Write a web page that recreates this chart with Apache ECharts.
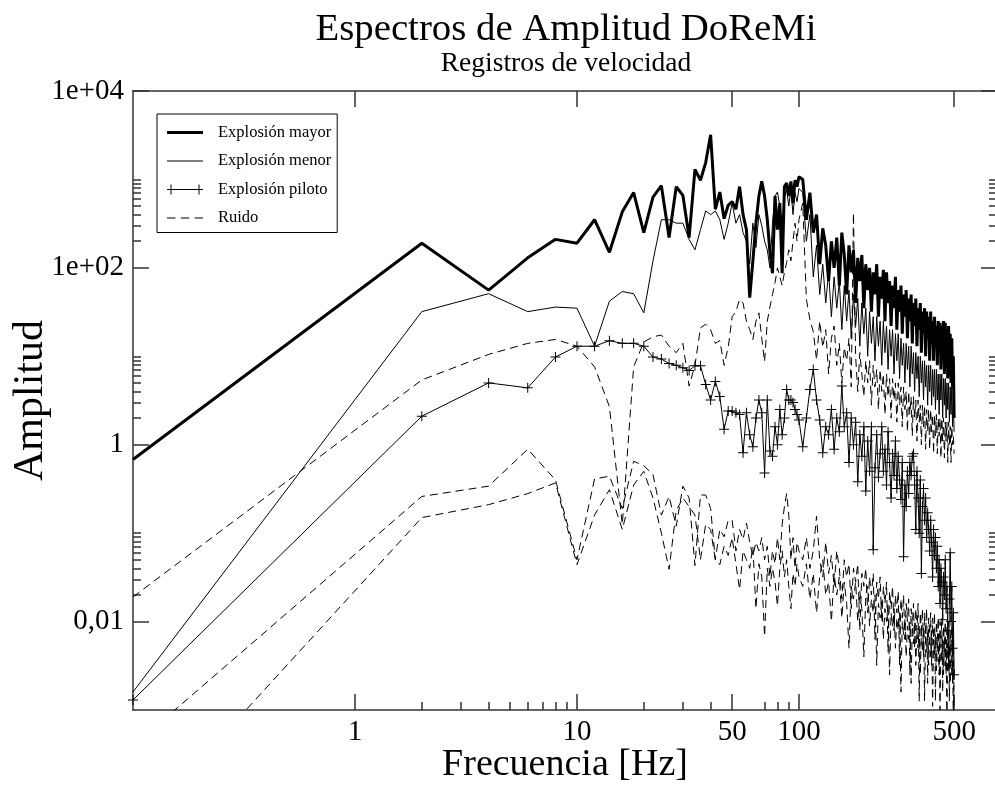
<!DOCTYPE html>
<html>
<head>
<meta charset="utf-8">
<script src="https://cdn.jsdelivr.net/npm/echarts@6/dist/echarts.min.js"></script>
<style>
html, body { margin: 0; padding: 0; background: #fff; }
#chart { width: 995px; height: 786px; }
</style>
</head>
<body>
<div id="chart"></div>
<script>
// frecuencias [Hz]
var freq = [0.1,
	2,4,6,8,10,12,14,16,18,20, 22,24,26,28,30,32,34,36,38,40,
	42,44,46,48,50,52,54,56,58,60, 62,64,66,68,70,72,74,76,78,80,
	82,84,86,88,90,92,94,96,98,100,
	104,108,112,116,120,124,128,132,136,140, 144,148,152,156,160,164,168,172,176,180,
	184,188,192,196,200,204,208,212,216,220, 224,228,232,236,240,244,248,252,256,260,
	264,268,272,276,280,284,288,292,296,300, 304,308,312,316,320,324,328,332,336,340,
	344,348,352,356,360,364,368,372,376,380, 384,388,392,396,400,404,408,412,416,420,
	424,428,432,436,440,444,448,452,456,460, 464,468,472,476,480,484,488,492,496,500];

var mayor = [0.68,
	190,56,130,210,190,350,150,430,710,250, 630,850,220,830,660,220,1300,980,1550,3200,
	460,720,360,510,560,460,830,400,270,46, 120,320,650,950,650,350,150,87,650,270,
	540,87,830,910,650,950,540,980,830,1070,
	1000,350,710,250,400,110,280,180,71,200, 100,220,63,250,140,50,180,89,160,40,
	130,71,140,35,110,56,100,32,89,50, 110,28,79,45,95,25,89,40,71,22,
	63,35,79,20,56,32,63,18,50,28, 56,16,45,25,50,14,40,22,45,13,
	35,20,40,11,32,18,35,10,32,16, 28,8.9,32,14,25,8.9,28,13,22,7.9,
	25,11,24,7.1,22,10,25,6.3,24,8.9, 20,5.6,22,7.9,18,5,16,4.5,10,2];

var menor = [0.0016,
	32,51,32,36,35,13,42,54,51,31, 120,350,350,320,320,210,160,270,440,400,
	440,350,210,320,540,320,400,250,200,110, 320,170,400,300,200,160,100,320,650,720,
	500,320,630,760,500,790,400,710,560,790,
	710,200,400,79,180,50,110,40,89,28, 79,35,71,20,63,25,56,16,50,22,
	45,13,40,18,35,10,32,14,28,8.9, 28,13,25,7.9,25,11,22,7.1,20,10,
	20,6.3,18,8.9,18,5.6,16,7.9,14,5, 14,7.1,13,4.5,13,6.3,11,4,11,5.6,
	10,3.5,10,5,8.9,3.2,8.9,4.5,7.9,2.8, 7.9,4,7.9,2.8,7.1,3.5,7.1,2.5,7.1,3.2,
	6.3,2.2,6.3,3.2,6.3,2,5.6,2.8,5.6,2, 5,2.5,5,1.8,4.5,2.2,4.5,1.6,2.8,1.4];

var piloto = [0.0013,
	2.1,5,4.4,9.8,13,13,15,14,14,13, 9.8,9.3,8.3,7.9,7.4,6.9,7.8,7.8,4.8,3.2,
	5.2,3.5,1.5,2.4,2.4,2.3,2.2,0.81,2.3,1.3, 0.95,2,3.2,2.3,0.48,3.2,0.85,0.74,1.6,1,
	2.5,1.3,2,4.2,3.2,3.2,3,2.5,2.2,1.9,
	0.95,2,4.2,7.1,3.2,1.9,0.81,1.6,1.3,2.5, 0.89,2,1.4,4.6,1.6,2.3,0.63,2,1,1.8,
	0.38,1.3,0.74,1.6,0.3,1.1,0.5,1.6,0.065,0.55, 1.3,0.43,0.79,1.6,0.5,0.89,0.35,1.4,0.63,0.25,
	0.79,0.45,1.1,0.32,0.74,0.4,0.24,0.63,0.054,0.35, 0.2,0.5,0.28,0.63,0.45,0.74,0.79,0.35,0.11,0.5,
	0.25,0.1,0.4,0.035,0.2,0.32,0.14,0.25,0.089,0.17, 0.11,0.063,0.14,0.079,0.032,0.11,0.056,0.089,0.04,0.071,
	0.025,0.05,0.016,0.04,0.028,0.0105,0.032,0.02,0.05,0.014, 0.025,0.0079,0.0032,0.018,0.06,0.01,0.025,0.005,0.0126,0.0025];

var ruidoA = [0.019,
	5.4,10.5,14,15.5,13,7.6,2.7,0.126,7.6,14.5, 16.6,17.4,13,11,14,4.6,7.9,21,23,20,
	14,15,7.9,12.6,28,32,44,40,25,20, 15.5,25,31,16,8.7,25,36,50,68,100,
	79,63,89,115,160,120,200,320,200,350,
	540,44,26,19,9.1,25,12.6,20,6.3,16, 22,7.9,14,5,12.6,8.9,16,4.5,420,10,
	4,11,6.3,3.5,8.9,5,8.9,2.8,7.9,4.5, 7.1,2.5,7.1,4,6.3,2.2,6.3,3.5,5.6,2,
	5.6,3.2,5,1.8,5,2.8,4.5,1.6,4.5,2.5, 4,1.4,4,2.2,3.5,1.26,3.5,2,3.2,1.1,
	3.2,1.8,2.8,1,2.8,1.6,2.8,0.89,2.5,1.4, 2.5,0.89,2.5,1.4,2.2,0.79,2.2,1.26,2.2,0.79,
	2,1.26,2,0.71,2,1.1,2,0.71,1.8,1.1, 1.8,0.63,1.8,1,1.6,0.63,1.6,1,1.26,0.79];

var ruidoB = [0.00039,
	0.26,0.34,0.89,0.4,0.05,0.41,0.44,0.19,0.65,0.58, 0.46,0.16,0.26,0.12,0.34,0.25,0.043,0.27,0.27,0.19,
	0.05,0.11,0.091,0.14,0.14,0.063,0.11,0.085,0.13,0.079, 0.055,0.079,0.063,0.089,0.05,0.071,0.032,0.063,0.045,0.089,
	0.05,0.126,0.2,0.28,0.16,0.05,0.089,0.04,0.079,0.063,
	0.05,0.089,0.04,0.063,0.155,0.05,0.032,0.079,0.035,0.056, 0.025,0.063,0.04,0.018,0.05,0.032,0.045,0.014,0.04,0.028,
	0.045,0.0079,0.035,0.025,0.04,0.0126,0.032,0.02,0.035,0.0063, 0.028,0.018,0.032,0.01,0.025,0.016,0.028,0.0045,0.022,0.014,
	0.025,0.0079,0.02,0.0126,0.022,0.0032,0.018,0.011,0.02,0.0063, 0.016,0.01,0.018,0.0025,0.014,0.0089,0.016,0.005,0.014,0.0079,
	0.016,0.00126,0.0126,0.0079,0.014,0.004,0.0126,0.0071,0.014,0.002, 0.011,0.0071,0.0126,0.0032,0.011,0.0063,0.0126,0.00126,0.01,0.0063,
	0.011,0.0025,0.01,0.0056,0.011,0.0016,0.0089,0.0056,0.01,0.0025, 0.0089,0.005,0.01,0.00126,0.0079,0.0045,0.0089,0.002,0.0063,0.0008];

var ruidoC = [0.00004,
	0.15,0.21,0.28,0.37,0.044,0.16,0.31,0.11,0.35,0.5, 0.25,0.1,0.039,0.18,0.25,0.2,0.16,0.05,0.126,0.11,
	0.05,0.044,0.071,0.056,0.089,0.045,0.023,0.063,0.05,0.04, 0.071,0.014,0.045,0.032,0.0068,0.04,0.025,0.04,0.028,0.015,
	0.04,0.063,0.032,0.05,0.025,0.014,0.035,0.025,0.045,0.032,
	0.025,0.045,0.018,0.035,0.0126,0.032,0.05,0.02,0.028,0.01, 0.035,0.02,0.032,0.011,0.028,0.016,0.005,0.025,0.018,0.028,
	0.01,0.022,0.014,0.004,0.02,0.025,0.0089,0.018,0.0126,0.02, 0.0032,0.016,0.011,0.018,0.0063,0.014,0.01,0.016,0.0025,0.0126,
	0.0089,0.014,0.005,0.011,0.0079,0.0126,0.0016,0.01,0.0071,0.011, 0.004,0.0089,0.0063,0.01,0.002,0.0089,0.0056,0.01,0.0032,0.0079,
	0.005,0.0089,0.0025,0.0079,0.0045,0.0089,0.00126,0.0071,0.0045,0.0079, 0.0032,0.0071,0.004,0.0079,0.0011,0.0063,0.004,0.0071,0.0028,0.0063,
	0.0035,0.0071,0.001,0.0056,0.0035,0.0063,0.0025,0.0056,0.0032,0.0063, 0.0008,0.005,0.0032,0.0056,0.002,0.005,0.0025,0.0045,0.00063,0.0032];

// ejes
var xMin = 0.1, xMax = 780, yMin = 0.001, yMax = 10000;
var xMajor = [1, 10, 50, 100, 500];
var xMajorText = ['1', '10', '50', '100', '500'];
var xMinor = [2, 3, 4, 5, 6, 7, 8, 9, 20, 30, 40, 70, 80, 90];
var yMajor = [0.01, 1, 100, 10000];
var yMajorText = ['0,01', '1', '1e+02', '1e+04'];
var yMinor = [0.02, 0.03, 0.04, 0.05, 0.06, 0.07, 0.08, 0.09, 0.1,
	2, 3, 4, 5, 6, 7, 8, 9, 10,
	200, 300, 400, 500, 600, 700, 800, 900, 1000];

var serif = 'Liberation Serif';
var axisColor = '#333';

function lg(v) { return Math.log10(v); }
function pairs(ys) {
	return freq.map(function (f, i) { return [f, ys[i]]; });
}
function labelOf(values, texts) {
	return function (v) {
		for (var i = 0; i < values.length; i++) {
			if (Math.abs(lg(values[i]) - v) < 1e-6) return texts[i];
		}
		return '';
	};
}
// eje auxiliar solo para marcas (en espacio log10)
function tickAxis(pos, min, max, ticks, len, line, label, name) {
	var a = {
		type: 'value', position: pos, min: min, max: max,
		axisLine: { show: !!line, onZero: false, lineStyle: { color: axisColor, width: 1.5 } },
		axisTick: { show: true, inside: true, length: len, customValues: ticks.map(lg),
			lineStyle: { color: axisColor, width: 1.5 } },
		axisLabel: { show: false },
		splitLine: { show: false }
	};
	if (label) a.axisLabel = label;
	if (name) {
		for (var k in name) a[k] = name[k];
	}
	return a;
}

var chart = echarts.init(document.getElementById('chart'));

var cross = 'path://M0,4.5H10V5.5H0Z M4.5,0H5.5V10H4.5Z';

var option = {
	animation: false,
	backgroundColor: '#fff',
	title: {
		text: 'Espectros de Amplitud DoReMi',
		subtext: 'Registros de velocidad',
		left: 561, top: 5, textAlign: 'center', itemGap: 1,
		textStyle: { fontFamily: serif, fontSize: 38.8, fontWeight: 'normal', color: '#000' },
		subtextStyle: { fontFamily: serif, fontSize: 27.5, color: '#000' }
	},
	legend: {
		orient: 'vertical', left: 157, top: 114,
		padding: [10, 6, 6, 10], itemGap: 11.5, itemWidth: 36, itemHeight: 14,
		borderColor: '#000', borderWidth: 1,
		selectedMode: false,
		itemStyle: { borderWidth: 0 },
		textStyle: { fontFamily: serif, fontSize: 16.5, color: '#000', padding: [0, 0, 0, 10] },
		data: [
			{ name: 'Explosión mayor', icon: 'path://M0,0H36V3H0Z' },
			{ name: 'Explosión menor', icon: 'path://M0,0H36V1.2H0Z' },
			{ name: 'Explosión piloto', icon: 'path://M0,6.5H36V7.5H0Z M3.5,2H4.5V12H3.5Z M31.5,2H32.5V12H31.5Z' },
			{ name: 'Ruido', icon: 'path://M0,6.5H8V7.5H0Z M13,6.5H21V7.5H13Z M26,6.5H34V7.5H26Z' }
		]
	},
	grid: { left: 133, top: 91, right: -2, bottom: 76, outerBoundsMode: 'none' },
	xAxis: [
		{ type: 'log', min: xMin, max: xMax, show: false, axisLine: { onZero: false } },
		tickAxis('bottom', lg(xMin), lg(xMax), xMajor, 16, true,
			{ show: true, customValues: xMajor.map(lg), margin: 8, formatter: labelOf(xMajor, xMajorText),
				fontFamily: serif, fontSize: 29, color: '#000' },
			{ name: 'Frecuencia [Hz]', nameLocation: 'middle', nameGap: 36, nameMoveOverlap: false,
				nameTextStyle: { fontFamily: serif, fontSize: 38, color: '#000' } }),
		tickAxis('bottom', lg(xMin), lg(xMax), xMinor, 8, false),
		tickAxis('top', lg(xMin), lg(xMax), xMajor, 16, true)
	],
	yAxis: [
		{ type: 'log', min: yMin, max: yMax, show: false, axisLine: { onZero: false } },
		tickAxis('left', lg(yMin), lg(yMax), yMajor, 16, true,
			{ show: true, customValues: yMajor.map(lg), margin: 9, formatter: labelOf(yMajor, yMajorText),
				fontFamily: serif, fontSize: 29, color: '#000' },
			{ name: 'Amplitud', nameLocation: 'middle', nameGap: 81, nameRotate: 90, nameMoveOverlap: false,
				nameTextStyle: { fontFamily: serif, fontSize: 42, color: '#000' } }),
		tickAxis('left', lg(yMin), lg(yMax), yMinor, 8, false),
		tickAxis('right', lg(yMin), lg(yMax), yMajor, 16, true),
		tickAxis('right', lg(yMin), lg(yMax), yMinor, 8, false)
	],
	series: [
		{ name: 'Ruido', type: 'line', data: pairs(ruidoC), showSymbol: false, color: '#000',
			lineStyle: { color: '#000', width: 1, type: [8, 5] } },
		{ name: 'Ruido', type: 'line', data: pairs(ruidoB), showSymbol: false, color: '#000',
			lineStyle: { color: '#000', width: 1, type: [8, 5] } },
		{ name: 'Ruido', type: 'line', data: pairs(ruidoA), showSymbol: false, color: '#000',
			lineStyle: { color: '#000', width: 1, type: [8, 5] } },
		{ name: 'Explosión piloto', type: 'line', data: pairs(piloto), color: '#000',
			symbol: cross, symbolSize: 10, showSymbol: true,
			itemStyle: { color: '#000', borderWidth: 0 },
			lineStyle: { color: '#000', width: 1 } },
		{ name: 'Explosión menor', type: 'line', data: pairs(menor), showSymbol: false, color: '#000',
			lineStyle: { color: '#000', width: 1 } },
		{ name: 'Explosión mayor', type: 'line', data: pairs(mayor), showSymbol: false, color: '#000',
			lineStyle: { color: '#000', width: 3 } }
	]
};

chart.setOption(option);
</script>
</body>
</html>
